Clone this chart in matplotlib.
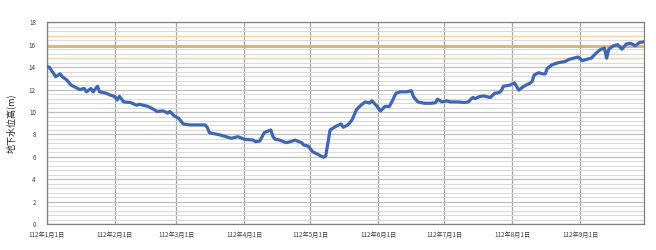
import matplotlib.pyplot as plt
import pandas as pd
from matplotlib.ticker import MultipleLocator

plt.rcParams["font.family"] = ["Noto Sans CJK TC", "DejaVu Sans"]

# days since 2023-01-01 (ROC year 112)
day = [0, 1, 4, 6, 7, 9, 11, 14, 15, 17, 18, 20, 21, 23, 24, 27, 29, 31, 32, 33,
       35, 38, 41, 42, 46, 49, 50, 53, 55, 56, 58, 60, 62, 65, 68, 72, 73, 74, 79, 84,
       87, 90, 94, 95, 97, 99, 100, 102, 103, 104, 106, 109, 111, 113, 116, 117, 119, 121, 124, 126,
       127, 129, 132, 134, 135, 137, 138, 139, 141, 143, 145, 147, 148, 150, 152, 154, 156, 157, 159, 161,
       164, 166, 167, 169, 172, 175, 177, 178, 180, 182, 184, 187, 190, 192, 194, 195, 197, 199, 202, 204,
       206, 207, 208, 211, 213, 215, 217, 220, 221, 222, 224, 226, 227, 228, 230, 233, 236, 238, 242, 244,
       246, 248, 250, 252, 254, 255, 256, 258, 260, 262, 264, 266, 268, 270, 272]
level = [14.04, 14.0, 13.15, 13.4, 13.15, 12.86, 12.4, 12.1, 12.0, 12.1, 11.8, 12.1, 11.8, 12.3, 11.8, 11.67, 11.5, 11.37, 11.07, 11.4,
         10.9, 10.85, 10.6, 10.7, 10.5, 10.2, 10.05, 10.1, 9.9, 10.05, 9.65, 9.45, 8.94, 8.85, 8.85, 8.85, 8.64, 8.16, 7.95, 7.66,
         7.8, 7.57, 7.5, 7.36, 7.42, 8.16, 8.25, 8.4, 7.8, 7.57, 7.5, 7.27, 7.36, 7.5, 7.27, 7.06, 6.97, 6.47, 6.17, 5.97,
         6.08, 8.4, 8.76, 8.94, 8.64, 8.85, 9.05, 9.3, 10.2, 10.6, 10.9, 10.8, 11.0, 10.6, 10.1, 10.5, 10.5, 10.85, 11.67, 11.8,
         11.8, 11.9, 11.37, 10.9, 10.78, 10.78, 10.83, 11.14, 10.9, 10.99, 10.9, 10.9, 10.85, 10.9, 11.3, 11.2, 11.37, 11.43, 11.3, 11.67,
         11.73, 11.9, 12.3, 12.4, 12.6, 11.95, 12.26, 12.56, 12.7, 13.3, 13.5, 13.4, 13.4, 13.9, 14.2, 14.4, 14.5, 14.7, 14.9, 14.58,
         14.7, 14.8, 15.2, 15.55, 15.7, 14.8, 15.6, 15.9, 16.0, 15.6, 16.07, 16.13, 15.9, 16.2, 16.25]

alert_level = 15.8
side_levels = [16.8, 14.8]
month_labels = ["112年1月1日", "112年2月1日", "112年3月1日", "112年4月1日", "112年5月1日",
                "112年6月1日", "112年7月1日", "112年8月1日", "112年9月1日"]

start = pd.Timestamp("2023-01-01")
dates = start + pd.to_timedelta(day, unit="D")
month_ticks = pd.date_range("2023-01-01", periods=len(month_labels), freq="MS")

fig = plt.figure(figsize=(6.56, 2.5), dpi=100)
ax = fig.add_axes([0.0716, 0.103, 0.910, 0.808])

ax.set_ylim(0, 18)
ax.set_xlim(start, pd.Timestamp("2023-09-30"))
ax.yaxis.set_major_locator(MultipleLocator(2))
ax.yaxis.set_minor_locator(MultipleLocator(0.4))
ax.set_xticks(month_ticks)
ax.set_xticklabels(month_labels)

ax.grid(axis="y", which="minor", color="#d9d9d9", linewidth=0.8)
ax.grid(axis="y", which="major", color="#bfbfbf", linewidth=0.9)
ax.grid(axis="x", which="major", color="#a6a6a6", linewidth=0.9)
ax.set_axisbelow(True)

for lv in side_levels:
    ax.axhline(lv, color="#f4d3b8", linewidth=1.0, zorder=1)
ax.axhline(alert_level, color="#e3a870", linewidth=1.3, zorder=2)

ax.plot(dates, level, color="#3e66b2", linewidth=2.3, zorder=3, solid_joinstyle="round")

for s in ax.spines.values():
    s.set_color("#808080")
    s.set_linewidth(0.9)

ax.tick_params(axis="both", which="both", length=0, labelsize=4.5, colors="#404040")
ax.tick_params(axis="x", pad=5)
ax.tick_params(axis="y", pad=8)
ax.set_ylabel("地下水位高(m)", fontsize=6.5, color="#202020", labelpad=9)

fig.savefig("out.png", dpi=100)
